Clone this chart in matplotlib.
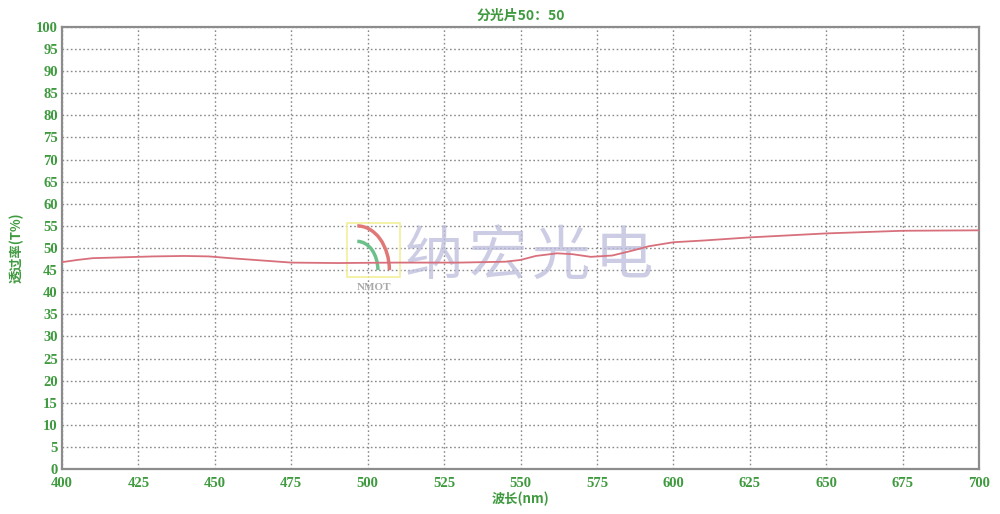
import matplotlib
matplotlib.use('Agg')
import matplotlib.pyplot as plt
from matplotlib.patches import Rectangle, Arc

# 波长 (nm) / 透过率 (T%)
wavelength = [400, 405, 410, 420, 430, 440, 448, 455, 465, 475, 490, 510, 530,
              545, 550, 555, 562, 567, 573, 580, 586, 592, 600, 610, 625, 650,
              675, 700]
transmit = [46.8, 47.3, 47.7, 47.9, 48.1, 48.2, 48.1, 47.7, 47.2, 46.7, 46.6,
            46.7, 46.7, 46.9, 47.3, 48.2, 48.8, 48.6, 48.0, 48.3, 49.3, 50.4,
            51.3, 51.7, 52.4, 53.3, 53.9, 54.0]

x_ticks = list(range(400, 701, 25))
y_ticks = list(range(0, 101, 5))

green = '#3f9a3f'
cjk = ['Noto Sans CJK SC', 'DejaVu Sans']
serif = ['Liberation Serif', 'DejaVu Serif']

fig = plt.figure(figsize=(10, 5.14), dpi=100)
ax = fig.add_axes([0.062, 0.0875, 0.917, 0.86])

ax.plot(wavelength, transmit, color='#d8707c', lw=1.3, zorder=3)

ax.set_xlim(400, 700)
ax.set_ylim(0, 100)
ax.set_xticks(x_ticks)
ax.set_yticks(y_ticks)
ax.grid(True, color='#8a8a8a', linestyle=(0, (1.2, 1.8)), lw=1.0)
ax.tick_params(length=0, labelcolor=green, labelsize=10.5)
ax.tick_params(axis='x', pad=6)
ax.tick_params(axis='y', pad=3)
for lab in ax.get_xticklabels() + ax.get_yticklabels():
    lab.set_family(serif)
    lab.set_fontweight('bold')
for s in ax.spines.values():
    s.set_color('#8c8c8c')
    s.set_linewidth(1.6)

ax.set_title('分光片50：50', color=green, family=cjk, fontsize=10,
             fontweight='bold', pad=5)
ax.set_xlabel('波长(nm)', color=green, family=cjk, fontsize=9.5,
              fontweight='bold', labelpad=1)
ax.set_ylabel('透过率(T%)', color=green, family=cjk, fontsize=9.5,
              fontweight='bold', labelpad=9)

# 水印
for i, ch in enumerate('纳宏光电'):
    ax.text(0.374 + i * 0.069, 0.478, ch, transform=ax.transAxes,
            fontsize=42, family=cjk, fontweight='light', color='#bcbcdb',
            alpha=0.75, ha='left', va='center', zorder=2)
ax.add_patch(Rectangle((0.311, 0.435), 0.058, 0.122, transform=ax.transAxes,
                       fill=False, ec='#f2ef9a', lw=1.2, zorder=2))
ax.add_patch(Arc((0.322, 0.45), 0.07, 0.2, theta1=0, theta2=90,
                 transform=ax.transAxes, color='#e07878', lw=2.5, zorder=2))
ax.add_patch(Arc((0.322, 0.45), 0.045, 0.13, theta1=0, theta2=90,
                 transform=ax.transAxes, color='#6cc08a', lw=2.5, zorder=2))
ax.text(0.34, 0.42, 'NMOT', transform=ax.transAxes, fontsize=8,
        family=serif, fontweight='bold', color='#a8a8a8', ha='center',
        va='top', zorder=2)

fig.savefig('out.png', dpi=100, facecolor='white')
